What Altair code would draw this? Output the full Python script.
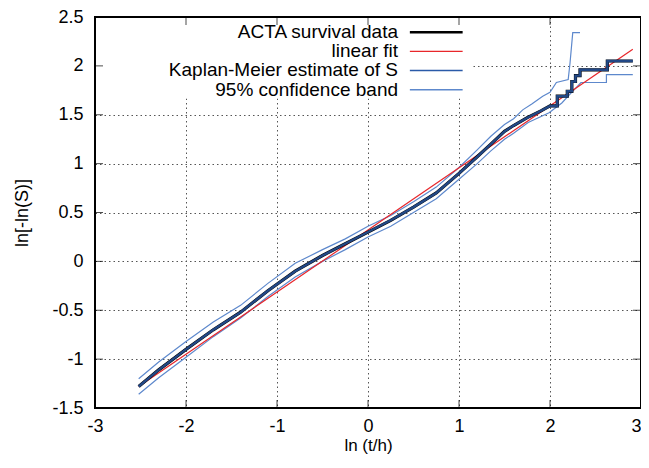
import altair as alt
import pandas as pd

# linear fit (end points)
fit_x = [-2.52, 2.91]
fit_y = [-1.28, 2.17]

# ACTA survival data / Kaplan-Meier estimate, ln[-ln(S)] against ln(t/h)
km_x = [-2.52, -2.3, -2.0, -1.7, -1.4, -1.1, -0.8, -0.5, -0.25, 0.0, 0.25,
        0.5, 0.75, 1.0, 1.2, 1.35, 1.5, 1.6, 1.75, 1.9, 2.0, 2.08, 2.08,
        2.19, 2.19, 2.24, 2.24, 2.28, 2.28, 2.33, 2.33, 2.63, 2.63, 2.91]
km_y = [-1.28, -1.11, -0.90, -0.70, -0.52, -0.30, -0.10, 0.06, 0.18, 0.30,
        0.42, 0.555, 0.70, 0.90, 1.07, 1.20, 1.33, 1.39, 1.47, 1.54, 1.59,
        1.59, 1.69, 1.69, 1.74, 1.74, 1.84, 1.84, 1.90, 1.90, 1.96, 1.96,
        2.05, 2.05]

# 95% confidence band
upper_x = [-2.52, -2.3, -2.0, -1.7, -1.4, -1.1, -0.8, -0.5, -0.25, 0.0,
           0.25, 0.5, 0.75, 1.0, 1.2, 1.35, 1.5, 1.6, 1.7, 1.8, 1.92, 2.0,
           2.07, 2.2, 2.22, 2.25, 2.33]
upper_y = [-1.20, -1.03, -0.82, -0.62, -0.45, -0.225, -0.02, 0.12, 0.23,
           0.36, 0.47, 0.61, 0.76, 0.96, 1.14, 1.28, 1.40, 1.46, 1.55, 1.61,
           1.69, 1.73, 1.83, 1.86, 2.03, 2.34, 2.34]
lower_x = [-2.52, -2.3, -2.0, -1.7, -1.4, -1.1, -0.8, -0.5, -0.25, 0.0,
           0.25, 0.5, 0.75, 1.0, 1.2, 1.35, 1.5, 1.6, 1.76, 1.99, 2.13, 2.2,
           2.34, 2.62, 2.62, 2.91]
lower_y = [-1.36, -1.19, -0.98, -0.77, -0.58, -0.36, -0.16, 0.00, 0.12,
           0.25, 0.36, 0.50, 0.64, 0.84, 1.00, 1.13, 1.25, 1.31, 1.42, 1.52,
           1.62, 1.69, 1.83, 1.83, 1.91, 1.91]

x_ticks = [-3, -2, -1, 0, 1, 2, 3]
y_ticks = [-1.5, -1, -0.5, 0, 0.5, 1, 1.5, 2, 2.5]

legend_labels = ['ACTA survival data', 'linear fit',
                 'Kaplan-Meier estimate of S', '95% confidence band']
legend_colors = ['black', '#e8262a', '#2a5aa8', '#5d88cc']
legend_widths = [2.5, 1.2, 1.5, 1.5]

FONT = 'Liberation Sans'
C_BAND = '#5d88cc'
C_KM = '#2a5aa8'
C_FIT = '#e8262a'

xs = alt.Scale(domain=[-3, 3], nice=False, zero=False)
ys = alt.Scale(domain=[-1.5, 2.5], nice=False, zero=False)

common = dict(grid=True, domain=False, ticks=False, labelFontSize=18,
              labelFont=FONT, titleFont=FONT, labelColor='black',
              titleColor='black', titleFontWeight='normal',
              gridColor='#555', gridDash=[1.5, 3], gridWidth=1,
              labelExpr="'' + datum.value")
# the last x label is kept inside the page
xaxis = alt.Axis(values=x_ticks, labelPadding=9, titlePadding=2,
                 titleFontSize=17,
                 labelAlign=alt.condition('datum.value == 3',
                                          alt.value('right'),
                                          alt.value('center')),
                 **common)
yaxis = alt.Axis(values=y_ticks, labelPadding=12, titlePadding=20,
                 titleFontSize=18, **common)

X = alt.X('x:Q', scale=xs, axis=xaxis, title='ln (t/h)')
Y = alt.Y('y:Q', scale=ys, axis=yaxis, title='ln[-ln(S)]')


def series(xv, yv):
    return pd.DataFrame({'x': xv, 'y': yv, 'i': range(len(xv))})


km = series(km_x, km_y)
up = series(upper_x, upper_y)
lo = series(lower_x, lower_y)
fit = series(fit_x, fit_y)

# white key box hiding the grid, like gnuplot does
box = alt.Chart(pd.DataFrame({'x': [-2.99], 'x2': [1.15],
                              'y': [1.665], 'y2': [2.49]})).mark_rect(
    color='white').encode(x=X, x2='x2', y=Y, y2='y2')


def line(df, color, width, opacity=1.0):
    return alt.Chart(df).mark_line(color=color, strokeWidth=width,
                                   opacity=opacity, clip=True).encode(
        x=X, y=Y, order='i')


curves = (line(up, C_BAND, 1.2) + line(lo, C_BAND, 1.2)
          + line(fit, C_FIT, 1.2) + line(km, 'black', 3.2)
          + line(km, C_KM, 2.4, 0.8))

n = len(legend_labels)
leg = pd.DataFrame({
    'label': legend_labels,
    'color': legend_colors,
    'w': legend_widths,
    'y': [2.345 - 0.196 * k for k in range(n)],
    'x': [0.33] * n,
    'xa': [0.46] * n,
    'xb': [1.04] * n,
})
leg_text = alt.Chart(leg).mark_text(align='right', baseline='middle',
                                    font=FONT, fontSize=19,
                                    color='black').encode(
    x=X, y=Y, text='label')
leg_line = alt.Chart(leg).mark_rule().encode(
    x=alt.X('xa:Q', scale=xs, axis=xaxis, title='ln (t/h)'), x2='xb',
    y=Y, color=alt.Color('color:N', scale=None),
    strokeWidth=alt.StrokeWidth('w:Q', scale=None))

# inward ticks on all four sides
xt = pd.DataFrame({'x': x_ticks * 2, 'y': [-1.5] * 7 + [2.5] * 7})
yt = pd.DataFrame({'x': [-3] * 9 + [3] * 9, 'y': y_ticks * 2})
ticks_x = alt.Chart(xt).mark_tick(orient='vertical', size=16, thickness=1,
                                  color='black', clip=True).encode(x=X, y=Y)
ticks_y = alt.Chart(yt).mark_tick(orient='horizontal', size=16, thickness=1,
                                  color='black', clip=True).encode(x=X, y=Y)

frame = alt.Chart(pd.DataFrame({'x': [-3], 'x2': [3], 'y': [-1.5],
                                'y2': [2.5]})).mark_rect(
    filled=False, stroke='black', strokeWidth=2).encode(
    x=X, x2='x2', y=Y, y2='y2')

chart = alt.layer(box, curves, leg_line, leg_text, ticks_x, ticks_y,
                  frame).properties(
    width=546, height=391,
    autosize=alt.AutoSizeParams(type='none'),
    padding={'left': 87, 'top': 9, 'right': 0, 'bottom': 47},
    background='white',
).configure_view(stroke=None)

chart.save('out.html', embed_options={'renderer': 'svg', 'actions': False})
